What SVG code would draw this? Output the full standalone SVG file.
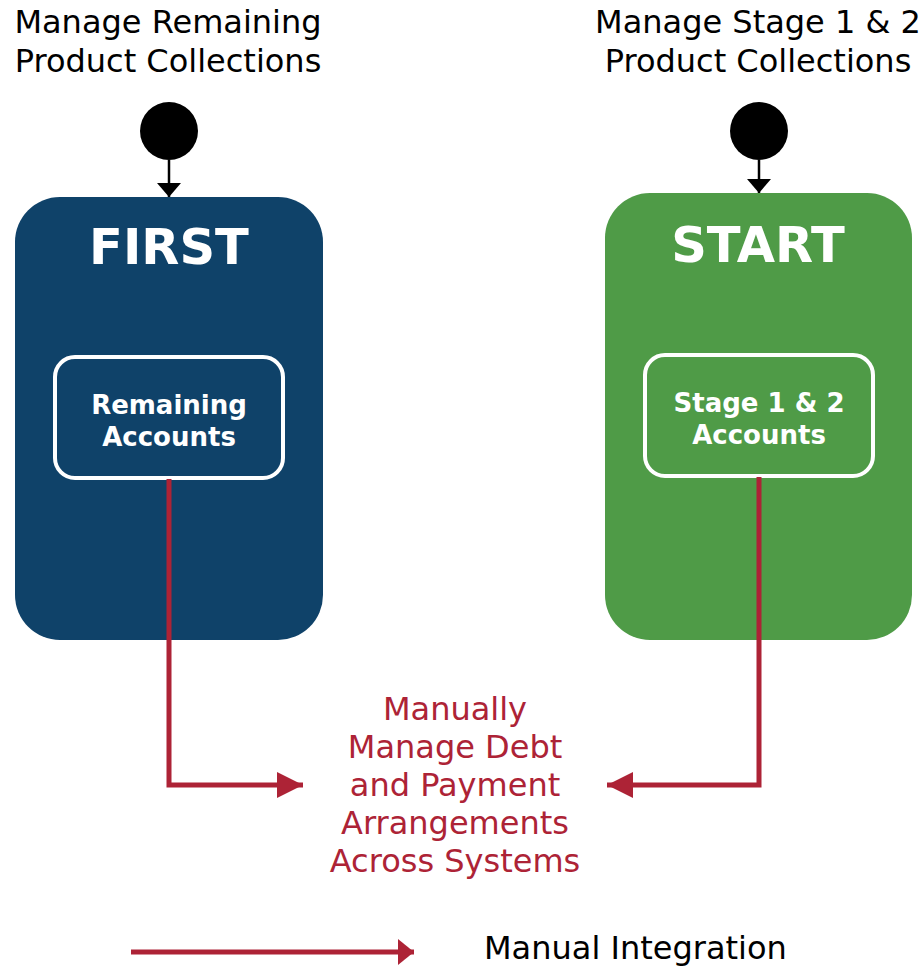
<svg xmlns="http://www.w3.org/2000/svg" width="923" height="967" viewBox="0 0 923 967">
<defs>
<style>
.t{font-family:"DejaVu Sans","Liberation Sans",sans-serif;font-size:32px;text-anchor:middle;fill:#000}
.red{fill:#ad2336}
.h{font-family:"DejaVu Sans","Liberation Sans",sans-serif;font-weight:bold;font-size:49.5px;fill:#fff;text-anchor:middle}
.s{font-family:"DejaVu Sans","Liberation Sans",sans-serif;font-weight:bold;font-size:26px;fill:#fff;text-anchor:middle}
.rl{fill:none;stroke:#ad2336;stroke-width:5}
.bl{fill:none;stroke:#000;stroke-width:2.5}
</style>
<marker id="ar" viewBox="0 0 10 10" refX="10" refY="5" markerUnits="userSpaceOnUse" markerWidth="26" markerHeight="26" orient="auto"><path d="M0,0 L10,5 L0,10 Z" fill="#ad2336"/></marker>
<marker id="al" viewBox="0 0 10 10" refX="10" refY="5" markerUnits="userSpaceOnUse" markerWidth="16" markerHeight="26" orient="auto" preserveAspectRatio="none"><path d="M0,0 L10,5 L0,10 Z" fill="#ad2336"/></marker>
<marker id="ab" viewBox="0 0 10 10" refX="10" refY="5" markerUnits="userSpaceOnUse" markerWidth="14" markerHeight="24" orient="auto" preserveAspectRatio="none"><path d="M0,0 L10,5 L0,10 Z" fill="#000"/></marker>
</defs>
<rect width="923" height="967" fill="#fff"/>
<g id="title-left"><text class="t" x="168" y="33">Manage Remaining</text><text class="t" x="168" y="72">Product Collections</text></g>
<g id="title-right"><text class="t" x="758" y="33">Manage Stage 1 &amp; 2</text><text class="t" x="758" y="72">Product Collections</text></g>
<g id="start-left"><circle cx="169" cy="131" r="29" fill="#000"/></g>
<g id="start-right"><circle cx="759" cy="131" r="29" fill="#000"/></g>
<g id="first">
<rect x="15" y="197" width="308" height="443" rx="45" fill="#0f4269"/>
<text class="h" x="169" y="264">FIRST</text>
</g>
<g id="remaining">
<rect x="55" y="357" width="228" height="121" rx="20" fill="#0f4269" stroke="#fff" stroke-width="4"/>
<text class="s" x="169" y="414">Remaining</text><text class="s" x="169" y="446">Accounts</text>
</g>
<g id="start">
<rect x="605" y="193" width="307" height="447" rx="45" fill="#4f9b47"/>
<text class="h" x="758" y="262">START</text>
</g>
<g id="stage">
<rect x="645" y="355" width="228" height="121" rx="20" fill="#4f9b47" stroke="#fff" stroke-width="4"/>
<text class="s" x="759" y="412">Stage 1 &amp; 2</text><text class="s" x="759" y="444">Accounts</text>
</g>
<g id="manual">
<text class="t red" x="455" y="720">Manually</text>
<text class="t red" x="455" y="758">Manage Debt</text>
<text class="t red" x="455" y="796">and Payment</text>
<text class="t red" x="455" y="834">Arrangements</text>
<text class="t red" x="455" y="872">Across Systems</text>
</g>
<g id="connectors">
<path class="bl" d="M169,160 V197" marker-end="url(#ab)"/>
<path class="bl" d="M759,160 V193" marker-end="url(#ab)"/>
<path class="rl" d="M169,479 V785 H303" marker-end="url(#ar)"/>
<path class="rl" d="M759,477 V785 H607" marker-end="url(#ar)"/>
</g>
<g id="legend">
<path class="rl" d="M131,952 H414" marker-end="url(#al)"/>
<text class="t" x="484" y="959" style="text-anchor:start">Manual Integration</text>
</g>
</svg>
